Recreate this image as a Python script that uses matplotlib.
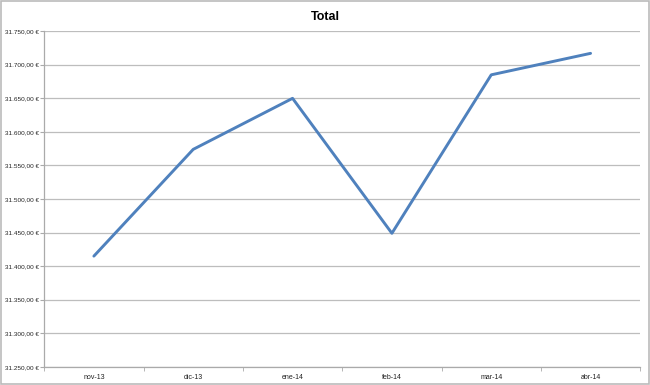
import matplotlib.pyplot as plt
import numpy as np
from matplotlib.ticker import FuncFormatter, FixedLocator

months = ["nov-13", "dic-13", "ene-14", "feb-14", "mar-14", "abr-14"]
total = [31415, 31574, 31650, 31449, 31685, 31717]
y_ticks = [31250, 31300, 31350, 31400, 31450, 31500, 31550, 31600, 31650, 31700, 31750]

plt.rcParams["font.family"] = ["Liberation Sans", "DejaVu Sans"]

DPI = 100
fig = plt.figure(figsize=(6.5, 3.85), dpi=DPI)
ax = fig.add_axes([0.068, 0.047, 0.917, 0.872])

x = np.arange(len(months))
ax.plot(x, total, color="#4f81bd", linewidth=2.1, solid_capstyle="round", zorder=3)

ax.set_xlim(-0.5, len(months) - 0.5)
ax.set_ylim(y_ticks[0], y_ticks[-1])
ax.set_yticks(y_ticks)


def euro(v, pos):
    s = f"{v:,.2f}".replace(",", "X").replace(".", ",").replace("X", ".")
    return s + " €"


ax.yaxis.set_major_formatter(FuncFormatter(euro))
ax.set_xticks(x)
ax.set_xticklabels(months)
ax.xaxis.set_minor_locator(FixedLocator(np.arange(-0.5, len(months), 1.0)))
ax.tick_params(axis="x", which="major", length=0, labelsize=5, pad=5, colors="#222222")
ax.tick_params(axis="x", which="minor", length=3, color="#aaaaaa")
ax.tick_params(axis="y", length=3, color="#aaaaaa", labelsize=4.6, pad=1, labelcolor="#222222")

ax.grid(axis="y", color="#bdbdbd", linewidth=0.9)
ax.set_axisbelow(True)
for side in ["top", "right"]:
    ax.spines[side].set_visible(False)
for side in ["left", "bottom"]:
    ax.spines[side].set_color("#aaaaaa")
    ax.spines[side].set_linewidth(0.9)

fig.text(0.5, 0.955, "Total", ha="center", va="center", fontsize=9, fontweight="bold")

# grey frame around the whole chart
fig.patches.append(plt.Rectangle((0.002, 0.003), 0.996, 0.994, transform=fig.transFigure,
                                 fill=False, edgecolor="#bbbbbb", linewidth=1.2))

plt.savefig("out.png", dpi=DPI)
